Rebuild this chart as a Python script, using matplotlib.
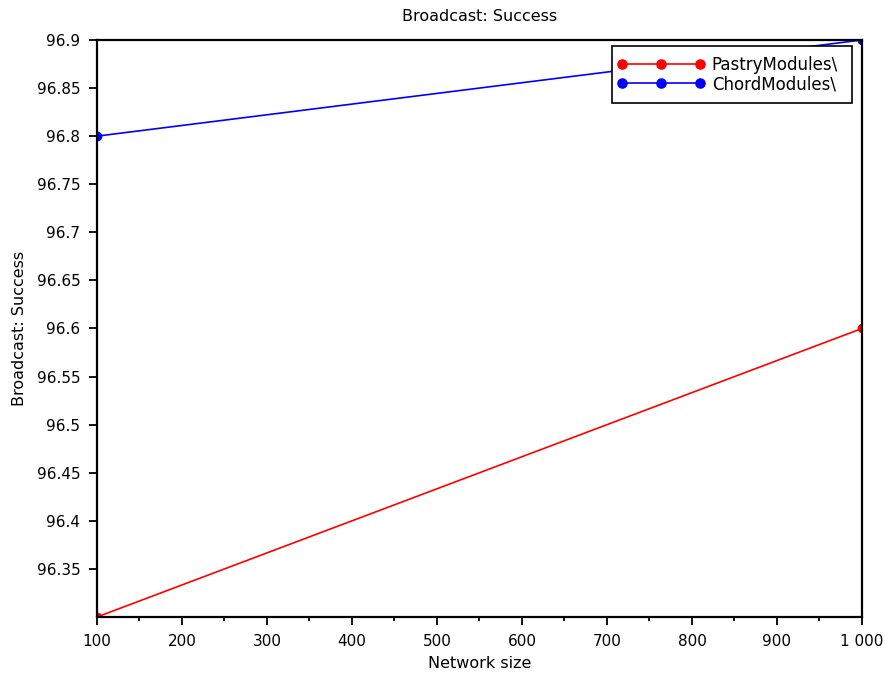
import matplotlib
matplotlib.use('Agg')
import matplotlib.pyplot as plt
from matplotlib.legend_handler import HandlerLine2D
from matplotlib.ticker import FuncFormatter, MultipleLocator

sizes = [100, 1000]
pastry = [96.3, 96.6]
chord = [96.8, 96.9]
y_ticks = [96.35, 96.4, 96.45, 96.5, 96.55, 96.6, 96.65, 96.7, 96.75, 96.8, 96.85, 96.9]


def thousands(x, pos):
    return f"{int(x):,}".replace(',', ' ')


def short(y, pos):
    return f"{y:.2f}".rstrip('0').rstrip('.')


plt.rcParams['font.family'] = 'DejaVu Sans'
fig = plt.figure(figsize=(8.85, 6.73), dpi=100)
ax = fig.add_axes([0.1096, 0.0832, 0.974 - 0.1096, 0.9406 - 0.0832])

l1, = ax.plot(sizes, pastry, color='red', marker='o', markersize=6, linewidth=1.2, label='PastryModules\\')
l2, = ax.plot(sizes, chord, color='blue', marker='o', markersize=6, linewidth=1.2, label='ChordModules\\')

ax.set_xlim(100, 1000)
ax.set_ylim(96.3, 96.9)
ax.set_yticks(y_ticks)
ax.xaxis.set_major_locator(MultipleLocator(100))
ax.xaxis.set_minor_locator(MultipleLocator(50))
ax.xaxis.set_major_formatter(FuncFormatter(thousands))
ax.yaxis.set_major_formatter(FuncFormatter(short))
ax.tick_params(axis='both', direction='out', labelsize=11, width=1.3, length=6, pad=6)
ax.tick_params(axis='x', which='minor', direction='out', length=3, width=1.3)
for s in ax.spines.values():
    s.set_linewidth(1.6)

ax.set_xlabel('Network size', fontsize=11.5, labelpad=5)
ax.set_ylabel('Broadcast: Success', fontsize=11.5, labelpad=7)
ax.set_title('Broadcast: Success', fontsize=11.5, pad=14)

# markers sit right at the ends of the legend line, like the original
hm = {l1: HandlerLine2D(marker_pad=0), l2: HandlerLine2D(marker_pad=0)}
leg = ax.legend(handler_map=hm, loc='upper right', mode='expand',
                bbox_to_anchor=(0.6732, 0.9, 0.3137, 0.0896), borderaxespad=0,
                numpoints=3, fancybox=False, framealpha=1, markerscale=1.1,
                edgecolor='black', fontsize=12, handlelength=4.67, handletextpad=0.72,
                labelspacing=0.07, borderpad=0.6)
leg.get_frame().set_linewidth(1.2)

fig.savefig('out.png', dpi=100)
